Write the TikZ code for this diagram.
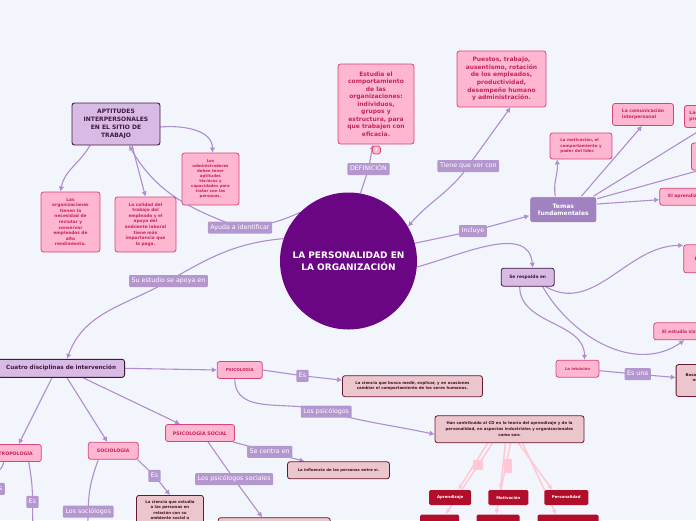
\documentclass[tikz,border=0pt]{standalone}
\usepackage{fontspec}
\setmainfont{DejaVu Sans}
\usetikzlibrary{arrows.meta,positioning}
\definecolor{bgcol}{RGB}{243,245,253}
\definecolor{orgpurple}{RGB}{106,6,132}
\definecolor{linec}{RGB}{176,141,206}
\definecolor{tagfill}{RGB}{180,151,206}
\definecolor{lilac}{RGB}{217,186,228}
\definecolor{plum}{RGB}{62,24,66}
\definecolor{pinkfill}{RGB}{255,182,208}
\definecolor{pinkline}{RGB}{212,70,120}
\definecolor{pinktext}{RGB}{196,38,94}
\definecolor{rosefill}{RGB}{235,199,205}
\definecolor{roseline}{RGB}{102,22,46}
\definecolor{rosetext}{RGB}{72,18,36}
\definecolor{crimson}{RGB}{176,14,42}
\definecolor{midpurple}{RGB}{160,130,192}
\definecolor{palepink}{RGB}{255,200,212}
\pgfdeclarelayer{wires}
\pgfsetlayers{wires,main}

\begin{document}
\begin{tikzpicture}[x=1pt,y=1pt,
  hub/.style={circle, fill=orgpurple, text=white, minimum size=137pt, inner sep=0pt,
    align=center, font=\bfseries\fontsize{9}{12.5}\selectfont},
  topic/.style 2 args={draw=plum, fill=lilac, text=plum, rounded corners=2.5pt,
    line width=0.9pt, inner sep=1pt, align=center, font=\bfseries\fontsize{#1}{#2}\selectfont},
  main/.style={fill=midpurple, draw=white, line width=0.8pt, text=white, rounded corners=2.5pt,
    align=center, font=\bfseries\fontsize{6}{7.5}\selectfont},
  pinkbox/.style 2 args={draw=pinkline, fill=pinkfill, text=pinktext, rounded corners=2.5pt,
    line width=0.8pt, inner sep=1pt, align=center, font=\bfseries\fontsize{#1}{#2}\selectfont},
  rosebox/.style 2 args={draw=roseline, fill=rosefill, text=rosetext, rounded corners=2.5pt,
    line width=0.8pt, inner sep=1pt, align=center, font=\bfseries\fontsize{#1}{#2}\selectfont},
  redbox/.style={fill=crimson, text=white, rounded corners=1.5pt, inner sep=0pt,
    minimum height=15pt, font=\bfseries\fontsize{3.9}{5}\selectfont},
  tag/.style={fill=tagfill, text=white, rounded corners=1pt, inner xsep=2.6pt, inner ysep=2.9pt,
    text height=4.8pt, text depth=1.4pt, font=\fontsize{6.3}{7}\selectfont},
  conn/.style={draw=linec, line width=1.1pt},
  arr/.style={conn, -{Latex[length=5pt,width=5.5pt]}},
  arr2/.style={conn, {Latex[length=5pt,width=5.5pt]}-{Latex[length=5pt,width=5.5pt]}},
  pale/.style={draw=palepink, line width=1.5pt, -{Latex[length=5pt,width=5pt]}}
]
\useasboundingbox (0,0) rectangle (696,-520);
\clip (0,0) rectangle (696,-520);

% centro
\node[hub] (org) at (348.5,-261) {LA PERSONALIDAD EN\\LA ORGANIZACIÓN};

% aptitudes
\node[topic={6}{8}, minimum width=88pt, minimum height=42pt] (apt) at (116,-124)
  {APTITUDES\\INTERPERSONALES\\EN EL SITIO DE\\TRABAJO};
\node[pinkbox={4.3}{5.6}, minimum width=59pt, minimum height=60pt] (need) at (70.5,-222)
  {Las\\organizaciones\\tienen la\\necesidad de\\reclutar y\\conservar\\empleados de\\alto\\rendimiento.};
\node[pinkbox={4.3}{5.6}, minimum width=61pt, minimum height=55pt] (qual) at (145.5,-224.5)
  {La calidad del\\trabajo del\\empleado y el\\apoyo del\\ambiente laboral\\tiene más\\importancia que\\la paga.};
\node[pinkbox={3.9}{5.1}, minimum width=57pt, minimum height=52pt] (admin) at (210.5,-179)
  {Los\\administradores\\deben tener\\aptitudes\\técnicas y\\capacidades para\\tratar con las\\personas.};
\node[tag] (ident) at (240,-227.5) {Ayuda a identificar};
\node[tag] (apoya) at (168.5,-281) {Su estudio se apoya en};

% definicion
\node[pinkbox={6}{7.5}, minimum width=76pt, minimum height=80pt] (estudia) at (376,-104)
  {Estudia el\\comportamiento\\de las\\organizaciones:\\individuos,\\grupos y\\estructura, para\\que trabajen con\\eficacia.};
\node[pinkbox={4.5}{5}, minimum size=8pt, inner sep=0pt, text=white] (nota) at (376.5,-150) {!};
\node[tag] (defin) at (368.5,-169) {DEFINICIÓN};
\node[pinkbox={6}{7.6}, minimum width=89pt, minimum height=56pt] (puestos) at (501.5,-79)
  {Puestos, trabajo,\\ausentismo, rotación\\de los empleados,\\productividad,\\desempeño humano\\y administración.};
\node[tag] (tiene) at (468.3,-166) {Tiene que ver con};

% temas
\node[main, minimum width=67pt, minimum height=26pt] (temas) at (563.3,-209.7) {Temas\\fundamentales};
\node[tag] (incl) at (473,-231) {Incluye};
\node[pinkbox={4}{5.3}, minimum width=62pt, minimum height=26pt, align=left] (motiv) at (581,-146)
  {La motivación, el\\comportamiento y\\poder del líder.};
\node[pinkbox={4.5}{6}, minimum width=61pt, minimum height=22pt, align=left] (comm) at (643,-114.5)
  {La comunicación\\interpersonal};
\node[pinkbox={4.5}{6}, anchor=west, minimum height=22pt, text width=60pt, inner xsep=5pt, align=left]
  (estr) at (684,-116.5) {Las estructuras y\\procesos de grupo};
\node[pinkbox={4.5}{6}, anchor=west, minimum width=60pt, minimum height=27pt] (box2) at (691,-156.5) {};
\node[pinkbox={4.5}{6}, anchor=west, minimum height=17pt, text width=50pt, inner xsep=8.5pt, align=left]
  (aprend) at (659.3,-196.7) {El aprendizaje};
\node[pinkbox={4.5}{6}, anchor=west, minimum height=28pt, text width=50pt, inner xsep=11pt, align=left]
  (boxE) at (683.3,-258.8) {El conflicto};

% respalda
\node[topic={4.4}{5.5}, minimum width=53pt, minimum height=18pt, line width=0.8pt] (resp) at (527.7,-277.2)
  {Se respalda en};
\node[pinkbox={4.5}{6}, anchor=west, minimum height=17pt, text width=70pt, inner xsep=8.4pt, align=left]
  (estsist) at (653.3,-331.3) {El estudio sistemático};
\node[pinkbox={3.8}{5}, minimum width=43pt, minimum height=17pt] (intu) at (577.5,-368.7) {La intuición};
\node[tag] (esuna) at (637.7,-374.2) {Es una};
\node[rosebox={3.9}{5.3}, anchor=west, minimum width=70pt, minimum height=32pt] (senti) at (675.7,-380.5)
  {Basada en sensaciones\\no en evidencias\\científicas.};

% disciplinas
\node[topic={5.7}{6.8}, anchor=east, minimum height=18pt, inner xsep=8.5pt] (cuatro) at (125,-368.3)
  {Cuatro disciplinas de intervención};
\node[pinkbox={4.1}{5}, minimum width=45pt, minimum height=17pt] (psico) at (239.8,-370) {PSICOLOGÍA};
\node[tag] (es1) at (302.5,-375.8) {Es};
\node[rosebox={3.9}{5}, minimum width=140pt, minimum height=21pt] (busca) at (412.5,-386.2)
  {La ciencia que busca medir, explicar, y en ocasiones\\cambiar el comportamiento de los seres humanos.};
\node[tag] (psic) at (326.2,-411.7) {Los psicólogos};
\node[rosebox={3.9}{6}, minimum width=149pt, minimum height=27pt] (han) at (509.5,-429.3)
  {Han contribuido al CD en la teoría del aprendizaje y de la\\personalidad, en aspectos industriales y organizacionales\\como son:};
\node[redbox, minimum width=42pt] (apr) at (450.2,-497.5) {Aprendizaje};
\node[redbox, minimum width=40pt] (mot) at (508.3,-497.5) {Motivación};
\node[redbox, minimum width=44pt] (pers) at (566.3,-497.5) {Personalidad};
\node[redbox, anchor=north, minimum width=39pt] (redd) at (439.7,-514.3) {};
\node[redbox, anchor=north, minimum width=43pt] (rede) at (498,-514.3) {};
\node[redbox, anchor=north, minimum width=61pt] (redf) at (568,-514.3) {};

\node[pinkbox={4.8}{6}, minimum width=69pt, minimum height=17pt] (psoc) at (200,-433) {PSICOLOGÍA SOCIAL};
\node[tag] (centra) at (269.7,-451.8) {Se centra en};
\node[rosebox={3.8}{5}, minimum width=102pt, minimum height=17pt] (infl) at (338.5,-470.3)
  {La influencia de las personas entre sí.};
\node[tag] (psocs) at (234.2,-479.2) {Los psicólogos sociales};
\node[rosebox={3.9}{5}, anchor=north, minimum width=112pt, minimum height=25pt] (fondo) at (274.2,-517.3) {};

\node[pinkbox={4.7}{6}, minimum width=50pt, minimum height=17pt] (socio) at (113.3,-450.8) {SOCIOLOGÍA};
\node[tag] (es2) at (154.5,-475.8) {Es};
\node[rosebox={3.9}{5.5}, anchor=north, minimum width=67pt, inner ysep=5pt] (estud) at (170,-495)
  {La ciencia que estudia\\a las personas en\\relación con su\\ambiente social o\\cultural.};
\node[tag] (socl) at (88.3,-511.7) {Los sociólogos};
\coordinate (socbajo) at (87,-540);

\node[pinkbox={4.7}{6}, anchor=east, minimum height=17pt, inner xsep=8.5pt] (antro) at (41.7,-453) {ANTROPOLOGÍA};
\node[tag] (es3) at (32.5,-501.8) {Es};
\node[tag, anchor=east] (antl) at (5,-488.8) {Los antropólogos};
\coordinate (antbajo) at (33,-540);

\begin{pgfonlayer}{wires}
\clip (0,0) rectangle (696,-520);
\fill[bgcol] (0,0) rectangle (696,-520);
% aptitudes
\draw[arr] (org.135) to[out=205,in=5] (ident.center) to[out=160,in=-60] ([xshift=13pt]apt.south);
\draw[arr] ([xshift=-26pt]apt.south) to[out=-120,in=80] ([xshift=-10pt]need.north);
\draw[arr] ([xshift=16pt]apt.south) -- (qual.north);
\draw[arr] ([yshift=-3pt]apt.east) to[out=5,in=90] ([xshift=2pt]admin.north);
\draw[arr] (org.161) to[out=185,in=30] (apoya.center) to[out=210,in=70] ([xshift=-58pt]cuatro.north east);
% definicion
\draw[arr] (org.80) -- (defin.center) -- ([xshift=-3pt]estudia.south);
\draw[arr2] ([xshift=9pt]puestos.south) -- (tiene.center) to[out=235,in=50] (org.30);
\draw[arr] (org.15) -- (incl.center) -- ([yshift=-6pt]temas.west);
% temas
\draw[arr] ([xshift=-8pt]temas.north) to[out=100,in=-85] ([xshift=-24pt]motiv.south);
\draw[arr] ([xshift=18pt]temas.north) -- ([xshift=-1pt]comm.south);
\draw[conn] ([xshift=30pt]temas.north) -- ([xshift=20pt]estr.south west);
\draw[conn] ([yshift=11pt]temas.east) -- ([xshift=8pt]box2.south west);
\draw[arr] ([yshift=5.7pt]temas.east) -- ([yshift=-3pt]aprend.west);
% respalda
\draw[arr] (org.-5) to[out=15,in=95] ([xshift=5pt]resp.north);
\draw[arr] ([xshift=-9pt]resp.south east) to[out=-30,in=180] ([yshift=-1pt]boxE.north west);
\draw[arr] ([xshift=-12pt]resp.south east) to[out=-60,in=215] ([xshift=31pt]estsist.south west);
\draw[arr] ([xshift=-8pt]resp.south) to[out=-90,in=90] ([xshift=7pt]intu.north);
\draw[arr] ([yshift=-2pt]intu.east) -- (esuna.center) -- ([yshift=3pt]senti.west);
% disciplinas
\draw[arr] (cuatro.east) -- (psico.west);
\draw[arr] ([xshift=-42pt]cuatro.south east) -- ([xshift=-20pt]psoc.north);
\draw[arr] ([xshift=-58pt]cuatro.south east) -- ([xshift=-6pt]socio.north);
\draw[arr] ([xshift=-73pt]cuatro.south east) -- ([xshift=-23pt]antro.north east);
\draw[arr] (psico.east) -- (es1.center) -- ([yshift=6pt]busca.west);
\draw[arr] ([xshift=-5pt]psico.south) to[out=-90,in=160] (psic.center) to[out=-15,in=168] ([yshift=-5pt]han.west);
\foreach \sx/\tgt/\tx in {-22/apr/8, -17/redd/6, -4/mot/-8, 1/rede/-2, 9/pers/-14, 13/redf/-12}
  \draw[pale] ([xshift=\sx pt]han.south) -- ([xshift=\tx pt]\tgt.north);
\fill[palepink] (472.7,-460) rectangle (482.7,-470);
\fill[palepink] (503.5,-459.3) rectangle (511.5,-473.3);
\draw[arr] ([xshift=-2pt]psoc.south east) -- (centra.center) -- ([xshift=-34pt]infl.north);
\draw[arr] ([xshift=8pt]psoc.south) -- (psocs.center) -- ([xshift=-12pt]fondo.north);
\draw[arr] ([xshift=-1pt]socio.south east) -- (es2.center) -- (estud.north);
\draw[conn] ([xshift=-15pt]socio.south) to[out=-110,in=90] (socl.center) -- (socbajo);
\draw[conn] ([xshift=-13pt]antro.south east) to[out=-80,in=90] (es3.center) -- (antbajo);
\draw[conn] ([xshift=-38pt]antro.south east) to[out=-100,in=60] (antl.center);
\end{pgfonlayer}
\end{tikzpicture}
\end{document}
